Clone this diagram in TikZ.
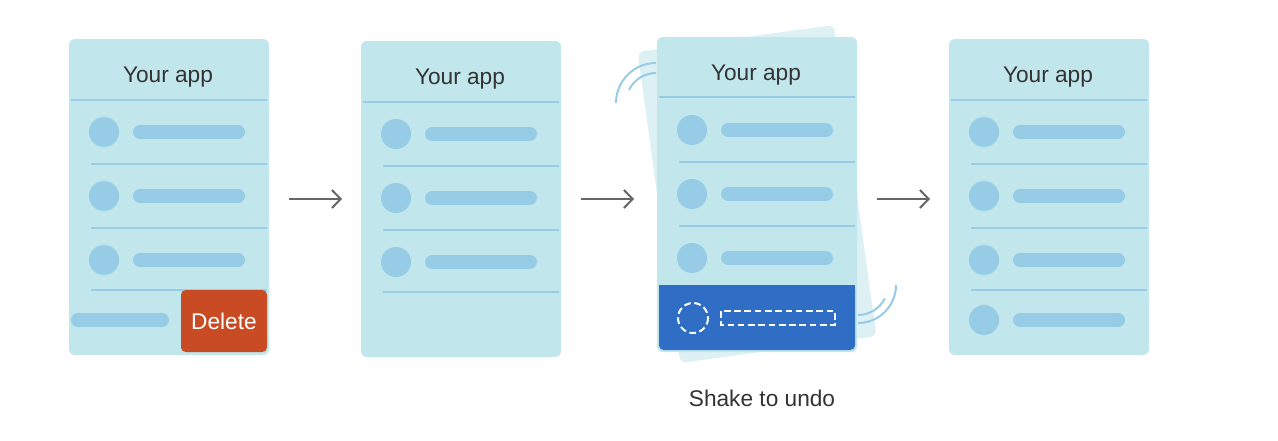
\documentclass[tikz,border=0pt]{standalone}
\usepackage{fontspec}
\setmainfont{Liberation Sans}
\usetikzlibrary{arrows.meta}

\definecolor{cardbg}{HTML}{C1E6EB}
\definecolor{cardback}{HTML}{DDF1F5}
\definecolor{rowblue}{HTML}{96CCE6}
\definecolor{delred}{HTML}{C84B23}
\definecolor{undoblue}{HTML}{306DC4}
\definecolor{ink}{HTML}{333333}
\definecolor{arrowgray}{HTML}{666666}

\tikzset{
  card/.style={fill=cardbg, rounded corners=4.5pt, minimum width=150pt,
    minimum height=237pt, inner sep=0pt},
  backcard/.style={fill=cardback, rounded corners=4.5pt, minimum width=148.5pt,
    minimum height=235.5pt, inner sep=0pt},
  title/.style={anchor=base, text=ink, font=\fontsize{17}{20}\selectfont},
  rule/.style={draw=rowblue, line width=1.5pt},
  bar/.style={draw=rowblue, line width=10.5pt, line cap=round},
  dot/.style={fill=rowblue},
  delbtn/.style={fill=delred, rounded corners=3.5pt, minimum width=64.5pt,
    minimum height=46.5pt, text=white, font=\fontsize{17}{20}\selectfont},
  ghost/.style={draw=white, line width=1.5pt, dash pattern=on 5pt off 2.7pt},
  shake/.style={draw=rowblue, line width=1.5pt},
  flow/.style={draw=arrowgray, line width=1.5pt,
    -{Straight Barb[length=6.5pt,width=13.5pt]}},
}

\begin{document}
\begin{tikzpicture}[x=0.75pt, y=-0.75pt]

  \fill[white] (0,0) rectangle (1278,440);
  \useasboundingbox (0,0) rectangle (1278,440);

  % first screen: swipe to delete
  \node[card] (app1) at (169,197) {};
  \begin{scope}[shift={(69,39)}]
    \draw[rule] (2,61) -- (198,61);
    \foreach \y in {93,157,221} {
      \fill[dot] (35,\y) circle[radius=15];
      \draw[bar] (71,\y) -- (169,\y);
    }
    \foreach \y in {125,189,251} \draw[rule] (22,\y) -- (198,\y);
    \draw[bar] (9,281) -- (93,281);
  \end{scope}
  \node[title] (t1) at (168,82) {Your app};
  \node[delbtn] (del) at (224,321) {Delete};

  % second screen: row gone
  \node[card] (app2) at (461,199) {};
  \begin{scope}[shift={(361,41)}]
    \draw[rule] (2,61) -- (198,61);
    \foreach \y in {93,157,221} {
      \fill[dot] (35,\y) circle[radius=15];
      \draw[bar] (71,\y) -- (169,\y);
    }
    \foreach \y in {125,189,251} \draw[rule] (22,\y) -- (198,\y);
  \end{scope}
  \node[title] (t2) at (460,84) {Your app};

  % third screen: shaking
  \node[backcard, rotate=7.8] (back3) at (757,194) {};
  \draw[shake] (616,103) arc[start angle=180, end angle=270, radius=40];
  \draw[shake] (629,90) arc[start angle=205.7, end angle=270, radius=30];
  \draw[shake] (858,323) arc[start angle=90, end angle=0, radius=38];
  \draw[shake] (858,315) arc[start angle=90, end angle=27, radius=30];
  \node[card, minimum height=236.25pt] (app3) at (757,194.5) {};
  \begin{scope}[shift={(657,37)}]
    \draw[rule] (2,60) -- (198,60);
    \foreach \y in {93,157,221} {
      \fill[dot] (35,\y) circle[radius=15];
      \draw[bar] (71,\y) -- (169,\y);
    }
    \foreach \y in {125,189} \draw[rule] (22,\y) -- (198,\y);
  \end{scope}
  \fill[undoblue, rounded corners=3.5pt] (659,285) rectangle (855,350);
  \fill[undoblue] (659,285) rectangle (855,296);
  \draw[ghost] (693,318) circle[radius=15];
  \draw[ghost] (721,311) rectangle (835,325);
  \node[title] (t3) at (756,80) {Your app};
  \node[title] (caption) at (762,406.5) {Shake to undo};

  % fourth screen: row restored
  \node[card] (app4) at (1049,197) {};
  \begin{scope}[shift={(949,39)}]
    \draw[rule] (2,61) -- (198,61);
    \foreach \y in {93,157,221,281} {
      \fill[dot] (35,\y) circle[radius=15];
      \draw[bar] (71,\y) -- (169,\y);
    }
    \foreach \y in {125,189,251} \draw[rule] (22,\y) -- (198,\y);
  \end{scope}
  \node[title] (t4) at (1048,82) {Your app};

  % arrows
  \coordinate (a1) at (289,199);
  \coordinate (b1) at (342,199);
  \coordinate (a2) at (581,199);
  \coordinate (b2) at (634,199);
  \coordinate (a3) at (877,199);
  \coordinate (b3) at (930,199);
  \draw[flow] (a1) -- (b1);
  \draw[flow] (a2) -- (b2);
  \draw[flow] (a3) -- (b3);

\end{tikzpicture}
\end{document}
